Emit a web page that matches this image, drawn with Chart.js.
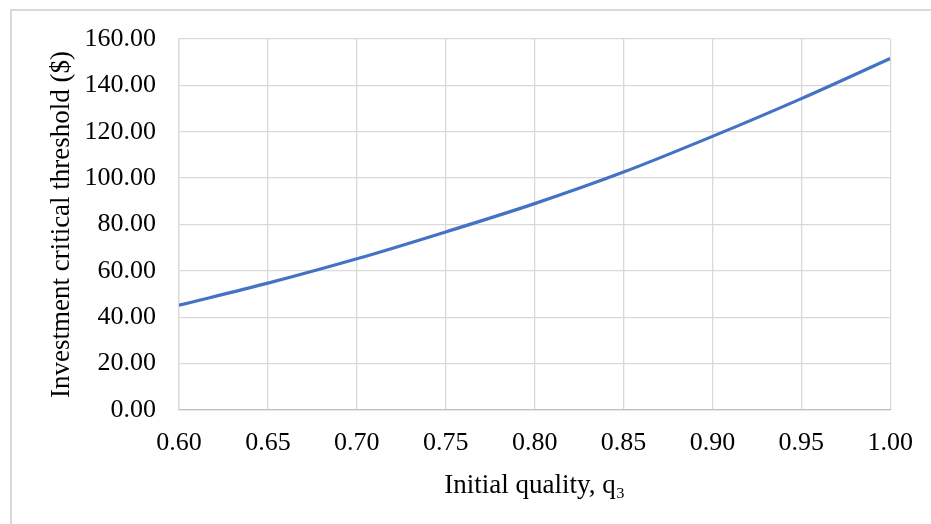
<!DOCTYPE html>
<html>
<head>
<meta charset="utf-8">
<script src="https://cdn.jsdelivr.net/npm/chart.js@4"></script>
<style>
  html, body { margin: 0; padding: 0; background: #ffffff; overflow: hidden; }
  #frame {
    position: absolute; left: 10px; top: 9px; width: 1000px; height: 600px;
    border: 2px solid #d9d9d9; box-sizing: border-box;
  }
  #chart { position: absolute; left: 0; top: 0; }
</style>
</head>
<body>
<div id="frame"></div>
<canvas id="chart" width="931" height="524"></canvas>
<script>
// initial quality q3 and the matching investment critical threshold ($)
const quality = [0.60, 0.65, 0.70, 0.75, 0.80, 0.85, 0.90, 0.95, 1.00];
const threshold = [45.2, 54.7, 65.2, 76.8, 89.0, 102.6, 118.0, 134.3, 151.6];

const xTicks = [0.60, 0.65, 0.70, 0.75, 0.80, 0.85, 0.90, 0.95, 1.00];
const yTicks = [0, 20, 40, 60, 80, 100, 120, 140, 160];

const serif = 'Liberation Serif, "Times New Roman", serif';

new Chart(document.getElementById('chart'), {
  type: 'line',
  data: {
    datasets: [{
      data: quality.map((q, i) => ({ x: q, y: threshold[i] })),
      borderColor: '#4472c4',
      borderWidth: 3.2,
      pointRadius: 0,
      cubicInterpolationMode: 'monotone',
      fill: false
    }]
  },
  options: {
    responsive: false,
    animation: false,
    layout: { padding: { left: 0, top: 39, right: 40, bottom: 0 } },
    plugins: { legend: { display: false }, tooltip: { enabled: false } },
    scales: {
      x: {
        type: 'linear',
        min: 0.6,
        max: 1.0,
        afterFit: (scale) => { scale.height = 114; },
        afterBuildTicks: (scale) => { scale.ticks = xTicks.map(v => ({ value: v })); },
        grid: { color: '#d9d9d9', lineWidth: 1.3, drawTicks: false },
        border: { color: '#bfbfbf', width: 1.3 },
        ticks: {
          color: '#000000',
          padding: 18,
          maxRotation: 0,
          font: { family: serif, size: 26 },
          callback: (v) => Number(v).toFixed(2)
        },
        title: {
          display: true,
          text: 'Initial quality, q₃',
          color: '#000000',
          font: { family: serif, size: 27 },
          padding: { top: 0, bottom: 22 }
        }
      },
      y: {
        min: 0,
        max: 160,
        afterFit: (scale) => { scale.width = 179; },
        afterBuildTicks: (scale) => { scale.ticks = yTicks.map(v => ({ value: v })); },
        grid: { color: '#d9d9d9', lineWidth: 1.3, drawTicks: false },
        border: { color: '#d9d9d9', width: 1.3 },
        ticks: {
          color: '#000000',
          padding: 23,
          font: { family: serif, size: 26 },
          callback: (v) => Number(v).toFixed(2)
        },
        title: {
          display: true,
          text: 'Investment critical threshold ($)',
          color: '#000000',
          font: { family: serif, size: 27 },
          padding: { top: 46, bottom: 0 }
        }
      }
    }
  }
});
</script>
</body>
</html>
